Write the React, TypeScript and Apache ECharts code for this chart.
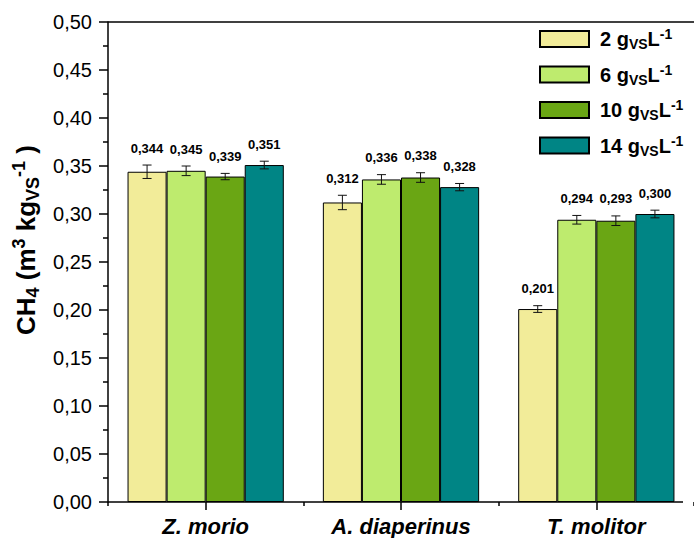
import React, { useEffect, useRef } from "react";
import * as echarts from "echarts";

const categories = ["Z. morio", "A. diaperinus", "T. molitor"];
const concentrations = ["2", "6", "10", "14"];
const colors = ["#F2EC99", "#BEEB6E", "#6AA614", "#008585"];
const values = [
  [0.344, 0.312, 0.201],
  [0.345, 0.336, 0.294],
  [0.339, 0.338, 0.293],
  [0.351, 0.328, 0.3],
];
const errors = [
  [0.007, 0.0075, 0.0035],
  [0.005, 0.005, 0.0045],
  [0.0033, 0.005, 0.005],
  [0.004, 0.0038, 0.004],
];
const yTicks = { min: 0, max: 0.5, interval: 0.05 };

const FONT = "'Liberation Sans', Arial, sans-serif";
const GRID_LEFT = 108;
const GRID_TOP = 22;
const GRID_BOTTOM_Y = 502;

export default function App() {
  const ref = useRef<HTMLDivElement>(null);
  useEffect(() => {
    if (!ref.current) return;
    const chart = echarts.init(ref.current, null, { renderer: "svg" });
    const nameOf = (c: string) => `${c} gVSL-1`;

    const barSeries = concentrations.map((c, k) => ({
      type: "bar",
      name: nameOf(c),
      xAxisIndex: 0,
      data: values[k],
      barGap: "0%",
      barCategoryGap: "20%",
      itemStyle: { color: colors[k], borderColor: "#000", borderWidth: 1 },
      z: 2,
    }));

    const errSeries = concentrations.map((c, k) => ({
      type: "custom",
      name: "err" + c,
      xAxisIndex: 0,
      z: 5,
      data: categories.map((_, i) => [i, values[k][i], errors[k][i]]),
      renderItem: (params: any, api: any) => {
        const i = api.value(0);
        const v = api.value(1);
        const e = api.value(2);
        const band = api.size([1, 0])[0];
        const barW = (band * 0.8) / 4;
        const cx = api.coord([i, v])[0] + (k - 1.5) * barW;
        const yTop = api.coord([i, v + e])[1];
        const yBot = api.coord([i, v - e])[1];
        const cap = 4.5;
        const st = { stroke: "#111", lineWidth: 1 };
        return {
          type: "group",
          children: [
            { type: "line", shape: { x1: cx, y1: yTop, x2: cx, y2: yBot }, style: st },
            { type: "line", shape: { x1: cx - cap, y1: yTop, x2: cx + cap, y2: yTop }, style: st },
            { type: "line", shape: { x1: cx - cap, y1: yBot, x2: cx + cap, y2: yBot }, style: st },
            {
              type: "text",
              style: {
                text: v.toFixed(3).replace(".", ","),
                x: cx,
                y: yTop - 17,
                align: "center",
                verticalAlign: "middle",
                fontSize: 13,
                fontWeight: "bold",
                fontFamily: FONT,
                fill: "#000",
              },
            },
          ],
        };
      },
    }));

    chart.setOption({
      animation: false,
      backgroundColor: "#fff",
      grid: { left: GRID_LEFT, top: GRID_TOP, right: -8, bottom: 538 - GRID_BOTTOM_Y },
      legend: {
        orient: "vertical",
        left: 539,
        top: 27,
        padding: 0,
        itemWidth: 49,
        itemHeight: 16,
        itemGap: 11.5,
        icon: "rect",
        data: concentrations.map(nameOf),
        formatter: (name: string) => {
          const c = name.split(" ")[0];
          return `${c} g{sub|VS}L{sup|-1}`;
        },
        textStyle: {
          fontSize: 20,
          fontWeight: "bold",
          fontFamily: FONT,
          color: "#000",
          lineHeight: 24,
          padding: [0, 0, 0, 6],
          rich: {
            sub: { fontSize: 14, fontWeight: "bold", fontFamily: FONT, verticalAlign: "bottom", lineHeight: 14 },
            sup: { fontSize: 14, fontWeight: "bold", fontFamily: FONT, verticalAlign: "top", lineHeight: 14 },
          },
        },
      },
      xAxis: [
        {
          type: "category",
          data: categories,
          position: "bottom",
          axisLine: { show: false },
          axisTick: { show: true, alignWithLabel: true, length: 8, lineStyle: { color: "#000", width: 1.5 } },
          axisLabel: {
            margin: 13,
            fontSize: 22,
            fontWeight: "bold",
            fontStyle: "italic",
            fontFamily: FONT,
            color: "#000",
          },
        },
        {
          type: "category",
          data: categories,
          position: "bottom",
          axisLine: { show: false },
          axisTick: { show: true, alignWithLabel: false, length: 4, lineStyle: { color: "#000", width: 1.5 } },
          axisLabel: { show: false },
        },
      ],
      yAxis: {
        type: "value",
        min: yTicks.min,
        max: yTicks.max,
        interval: yTicks.interval,
        name: "CH{sub|4} (m{sup|3} kg{sub|VS}{sup|-1} )",
        nameLocation: "middle",
        nameRotate: 90,
        nameGap: 66,
        nameTextStyle: {
          fontSize: 26,
          fontWeight: "bold",
          fontFamily: FONT,
          color: "#000",
          lineHeight: 32,
          padding: [0, 0, 0, 44],
          rich: {
            sub: { fontSize: 18, fontWeight: "bold", fontFamily: FONT, verticalAlign: "bottom", lineHeight: 18 },
            sup: { fontSize: 18, fontWeight: "bold", fontFamily: FONT, verticalAlign: "top", lineHeight: 18 },
          },
        },
        axisLine: { show: true, lineStyle: { color: "#000", width: 1.5 } },
        axisTick: { show: true, inside: false, length: 9, lineStyle: { color: "#000", width: 1.5 } },
        minorTick: { show: true, splitNumber: 2, length: 5, lineStyle: { color: "#000", width: 1.5 } },
        splitLine: { show: false },
        axisLabel: {
          margin: 16,
          fontSize: 20,
          fontFamily: FONT,
          color: "#000",
          formatter: (v: number) => v.toFixed(2).replace(".", ","),
        },
      },
      graphic: [
        {
          type: "line",
          shape: { x1: GRID_LEFT, y1: GRID_TOP, x2: 694, y2: GRID_TOP },
          style: { stroke: "#000", lineWidth: 1.5 },
          z: 10,
        },
        {
          type: "line",
          shape: { x1: GRID_LEFT, y1: GRID_BOTTOM_Y, x2: 683, y2: GRID_BOTTOM_Y },
          style: { stroke: "#000", lineWidth: 1.5 },
          z: 10,
        },
      ],
      series: [...barSeries, ...errSeries],
    });
    return () => chart.dispose();
  }, []);
  return (
    <div
      ref={ref}
      style={{ position: "fixed", left: 0, top: 0, width: 694, height: 538 }}
    />
  );
}
